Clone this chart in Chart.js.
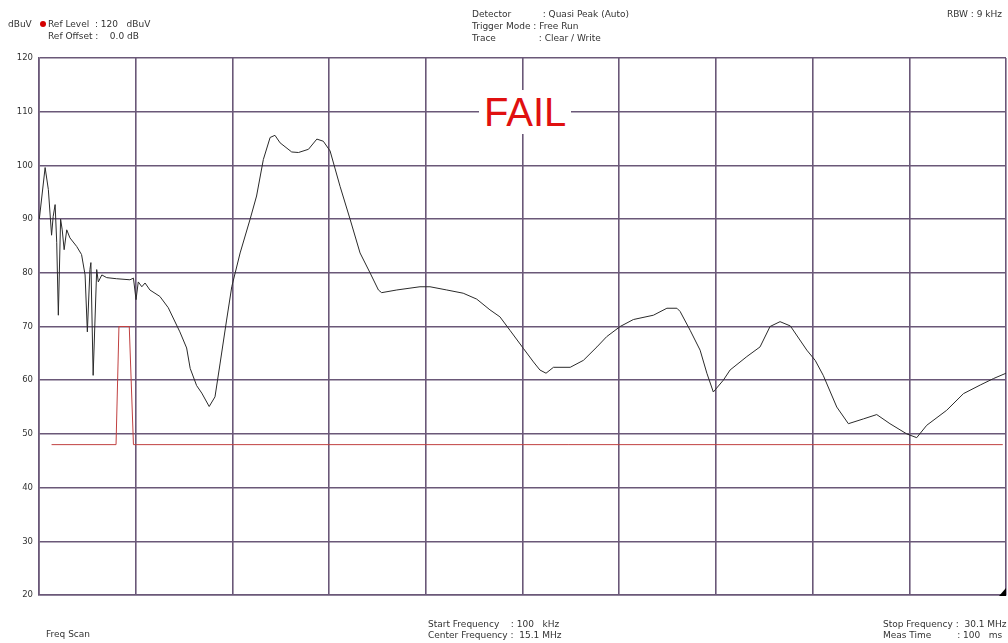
<!DOCTYPE html>
<html>
<head>
<meta charset="utf-8">
<script src="https://cdn.jsdelivr.net/npm/chart.js@4"></script>
<style>
  html, body { margin: 0; padding: 0; background: #fff; }
  #wrap { position: relative; width: 1008px; height: 643px; font-family: "DejaVu Sans", sans-serif; color: #333; }
  #wrap canvas { position: absolute; left: 0; top: 0; }
  .t { position: absolute; font-size: 9px; line-height: 12px; white-space: pre; color: #333; }
  .dot { display: inline-block; width: 6px; height: 6px; border-radius: 3px; background: #d40000; margin-right: 2px; vertical-align: 0; }
  #fail { position: absolute; left: 479px; top: 90px; background: #fff; color: #e01010; font-size: 40px; line-height: 44px; padding: 0 5px; font-family: "Liberation Sans", Arial, sans-serif; }
</style>
</head>
<body>
<div id="wrap">
  <canvas id="chart" width="1008" height="643"></canvas>
  <div class="t" style="left:8px;top:18px;">dBuV</div>
  <div class="t" style="left:40px;top:18px;"><span class="dot"></span>Ref Level  : 120   dBuV</div>
  <div class="t" style="left:48px;top:30px;">Ref Offset :    0.0 dB</div>
  <div class="t" style="left:472px;top:8px;">Detector           : Quasi Peak (Auto)</div>
  <div class="t" style="left:472px;top:20px;">Trigger Mode : Free Run</div>
  <div class="t" style="left:472px;top:32px;">Trace               : Clear / Write</div>
  <div class="t" style="left:947px;top:8px;">RBW : 9 kHz</div>
  <div class="t" style="left:46px;top:628px;">Freq Scan</div>
  <div class="t" style="left:428px;top:618px;">Start Frequency    : 100   kHz</div>
  <div class="t" style="left:428px;top:629px;">Center Frequency :  15.1 MHz</div>
  <div class="t" style="left:883px;top:618px;">Stop Frequency :  30.1 MHz</div>
  <div class="t" style="left:883px;top:629px;">Meas Time         : 100   ms</div>
  <div id="fail">FAIL</div>
</div>
<script>
// frequency axis (MHz), grid every 3 MHz from 100 kHz to 30.1 MHz
const freqTicks = [0.1, 3.1, 6.1, 9.1, 12.1, 15.1, 18.1, 21.1, 24.1, 27.1, 30.1];
const levelTicks = [20, 30, 40, 50, 60, 70, 80, 90, 100, 110, 120];

const traceFreq = [0.11, 0.29, 0.39, 0.49, 0.54, 0.60, 0.65, 0.70, 0.77, 0.82, 0.88, 0.96, 1.06, 1.27, 1.42, 1.53, 1.60, 1.68, 1.71, 1.78,
  1.89, 1.94, 2.05, 2.20, 2.50, 2.92, 3.03, 3.11, 3.18, 3.29, 3.39, 3.54, 3.85, 4.11, 4.47, 4.68, 4.79, 4.99, 5.15, 5.38,
  5.56, 5.72, 5.92, 6.08, 6.34, 6.65, 6.85, 7.06, 7.27, 7.42, 7.58, 7.94, 8.15, 8.46, 8.72, 8.92, 9.13, 9.44, 9.75, 10.06,
  10.37, 10.63, 10.73, 11.20, 11.92, 12.23, 12.75, 13.26, 13.68, 14.09, 14.40, 14.71, 15.13, 15.44, 15.64, 15.83, 16.06, 16.58, 16.99, 17.41,
  17.71, 18.13, 18.54, 19.16, 19.58, 19.89, 19.99, 20.30, 20.61, 20.82, 21.02, 21.33, 21.54, 22.06, 22.47, 22.78, 23.09, 23.41, 23.92, 24.18,
  24.43, 24.85, 25.21, 25.68, 26.09, 26.50, 27.02, 27.33, 27.64, 28.26, 28.78, 29.30, 29.71, 30.10];
const traceLevel = [90, 99.6, 95.5, 87, 90.5, 92.7, 85.6, 72.1, 90, 88, 84.3, 88, 86.5, 84.9, 83.4, 79.6, 69, 80.6, 81.9, 60.9,
  80.6, 78.3, 79.6, 79.1, 78.9, 78.7, 79, 75, 78.3, 77.4, 78.1, 76.8, 75.6, 73.5, 69.0, 66, 62.2, 59, 57.6, 55.1,
  56.9, 63.2, 71.2, 77.4, 83.7, 90, 94.3, 101.1, 105.2, 105.6, 104.2, 102.5, 102.4, 103, 104.9, 104.5, 102.7, 96.1, 90, 83.7,
  80, 76.8, 76.3, 76.8, 77.4, 77.4, 76.8, 76.2, 75.1, 73.1, 71.8, 69.3, 65.9, 63.4, 61.9, 61.3, 62.4, 62.4, 63.7, 66.2,
  68.1, 70, 71.3, 72.1, 73.4, 73.4, 72.8, 69.3, 65.6, 61.3, 57.8, 60, 61.9, 64.4, 66.2, 70, 70.9, 70.1, 65.6, 63.7,
  60.9, 55, 51.9, 52.8, 53.6, 51.9, 50, 49.3, 51.6, 54.4, 57.5, 59.1, 60.3, 61.3];

// limit line
const limitFreq = [0.49, 2.49, 2.58, 2.90, 3.03, 30.0];
const limitLevel = [48, 48, 70, 70, 48, 48];

const toXY = (xs, ys) => xs.map((x, i) => ({ x, y: ys[i] }));

// small black marker in the bottom right corner
const cornerMark = {
  id: "cornerMark",
  afterDraw(chart) {
    const { ctx, chartArea } = chart;
    ctx.save();
    ctx.fillStyle = "#000";
    ctx.beginPath();
    ctx.moveTo(chartArea.right, chartArea.bottom - 7);
    ctx.lineTo(chartArea.right, chartArea.bottom + 1);
    ctx.lineTo(chartArea.right - 7, chartArea.bottom + 1);
    ctx.closePath();
    ctx.fill();
    ctx.restore();
  }
};

const gridColor = "#6a5878";

new Chart(document.getElementById("chart"), {
  type: "line",
  data: {
    datasets: [
      {
        label: "Trace",
        data: toXY(traceFreq, traceLevel),
        borderColor: "#2a2a2a",
        borderWidth: 1,
        pointRadius: 0,
        tension: 0,
        fill: false,
      },
      {
        label: "Limit",
        data: toXY(limitFreq, limitLevel),
        borderColor: "#c04040",
        borderWidth: 1,
        pointRadius: 0,
        tension: 0,
        fill: false,
      },
    ],
  },
  options: {
    responsive: false,
    animation: false,
    layout: { padding: { top: 58, bottom: 48, right: 2, left: 0 } },
    plugins: {
      legend: { display: false },
      tooltip: { enabled: false },
    },
    scales: {
      x: {
        type: "linear",
        min: 0.1,
        max: 30.1,
        afterBuildTicks: (s) => { s.ticks = freqTicks.map(v => ({ value: v })); },
        afterFit: (s) => { s.height = 0; },
        ticks: { display: false },
        grid: { color: gridColor, lineWidth: 1.6, drawTicks: false },
        border: { color: gridColor, width: 1.6 },
      },
      y: {
        min: 20,
        max: 120,
        afterBuildTicks: (s) => { s.ticks = levelTicks.map(v => ({ value: v })); },
        afterFit: (s) => { s.width = 39; },
        ticks: { color: "#333", font: { size: 8.5, family: "DejaVu Sans" }, padding: 6 },
        grid: { color: gridColor, lineWidth: 1.6, drawTicks: false },
        border: { color: gridColor, width: 1.6 },
      },
    },
  },
  plugins: [cornerMark],
});
</script>
</body>
</html>
